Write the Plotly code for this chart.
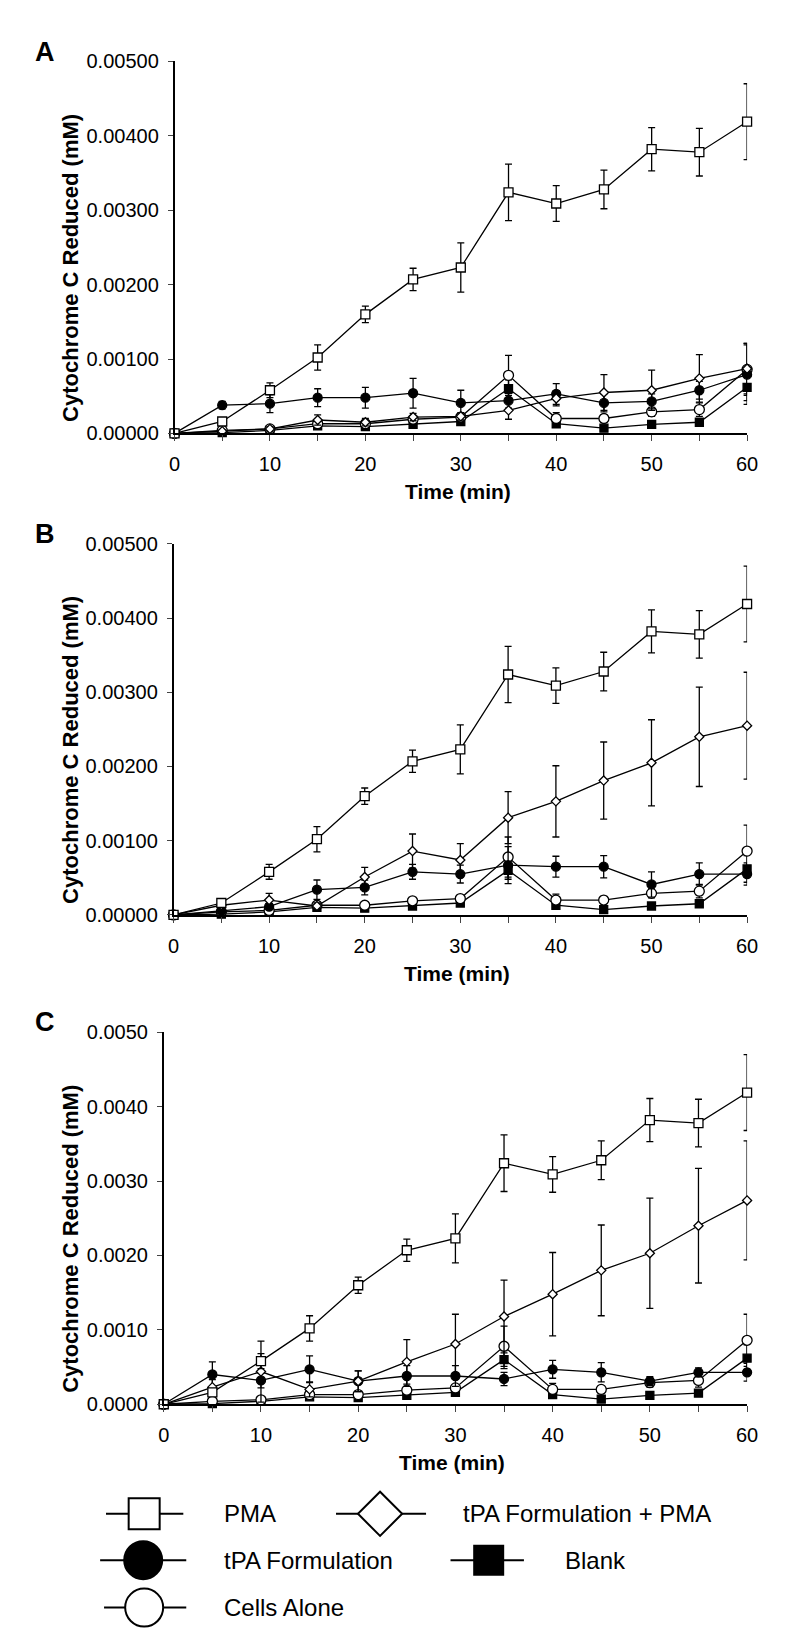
import plotly.graph_objects as go

W, H = 800, 1649

times = [0, 5, 10, 15, 20, 25, 30, 35, 40, 45, 50, 55, 60]

# values shared by all three panels
pma = [0, 0.00016, 0.00058, 0.00102, 0.00160, 0.00207, 0.00223, 0.00324, 0.00309, 0.00328, 0.00382, 0.00378, 0.00419]
pma_err = [0, 0.00003, 0.00010, 0.00017, 0.00011, 0.00015, 0.00033, 0.00038, 0.00024, 0.00026, 0.00029, 0.00032, 0.00051]
cells = [0, 0.00004, 0.00006, 0.00013, 0.00013, 0.00019, 0.00022, 0.00078, 0.00020, 0.00020, 0.00029, 0.00032, 0.00086]
cells_err = [0, 0.00002, 0.00003, 0.00003, 0.00003, 0.00004, 0.00004, 0.00027, 0.00008, 0.00005, 0.00006, 0.00009, 0.00035]
blank = [0, 0.00001, 0.00004, 0.00010, 0.00009, 0.00012, 0.00016, 0.00060, 0.00013, 0.00007, 0.00012, 0.00015, 0.00062]
blank_err = [0, 0.00002, 0.00002, 0.00002, 0.00002, 0.00002, 0.00002, 0.00012, 0.00005, 0.00002, 0.00002, 0.00002, 0.00018]

# panel A
tpa_a = [0, 0.00038, 0.00040, 0.00048, 0.00048, 0.00054, 0.00041, 0.00044, 0.00053, 0.00041, 0.00043, 0.00058, 0.00079]
tpa_a_err = [0, 0.00005, 0.00012, 0.00012, 0.00014, 0.00020, 0.00017, 0.00010, 0.00014, 0.00012, 0.00010, 0.00012, 0.00040]
combo_a = [0, 0.00003, 0.00006, 0.00018, 0.00015, 0.00022, 0.00023, 0.00031, 0.00047, 0.00055, 0.00058, 0.00074, 0.00087]
combo_a_err = [0, 0.00002, 0.00003, 0.00007, 0.00005, 0.00005, 0.00005, 0.00012, 0.00010, 0.00024, 0.00027, 0.00032, 0.00034]

# panel B
tpa_b = [0, 0.00005, 0.00011, 0.00034, 0.00037, 0.00058, 0.00055, 0.00067, 0.00065, 0.00065, 0.00041, 0.00055, 0.00055]
tpa_b_err = [0, 0.00003, 0.00004, 0.00013, 0.00010, 0.00010, 0.00012, 0.00025, 0.00014, 0.00015, 0.00017, 0.00015, 0.00015]
combo_b = [0, 0.00013, 0.00020, 0.00012, 0.00051, 0.00086, 0.00074, 0.00131, 0.00153, 0.00181, 0.00205, 0.00240, 0.00255]
combo_b_err = [0, 0.00005, 0.00009, 0.00004, 0.00013, 0.00023, 0.00022, 0.00035, 0.00048, 0.00052, 0.00058, 0.00067, 0.00072]

# panel C
tpa_c = [0, 0.00040, 0.00032, 0.00047, 0.00031, 0.00038, 0.00038, 0.00034, 0.00047, 0.00043, 0.00031, 0.00043, 0.00043]
tpa_c_err = [0, 0.00017, 0.00010, 0.00018, 0.00014, 0.00014, 0.00014, 0.00009, 0.00012, 0.00013, 0.00006, 0.00006, 0.00012]
combo_c = [0, 0.00023, 0.00044, 0.00020, 0.00031, 0.00057, 0.00081, 0.00118, 0.00148, 0.00180, 0.00203, 0.00240, 0.00274]
combo_c_err = [0, 0.00010, 0.00041, 0.00010, 0.00014, 0.00030, 0.00040, 0.00049, 0.00056, 0.00061, 0.00074, 0.00077, 0.00080]

y_ticks = [0, 0.001, 0.002, 0.003, 0.004, 0.005]
x_ticktext = ["0", "", "10", "", "20", "", "30", "", "40", "", "50", "", "60"]

legend_names = ["PMA", "tPA Formulation + PMA", "tPA Formulation", "Blank", "Cells Alone"]

FONT = "Arial, Liberation Sans, sans-serif"

# pixel boxes for each panel: left, right, top, bottom
panels = [
    ("A", 164, 749, 43, 420, ".5f", tpa_a, tpa_a_err, combo_a, combo_a_err),
    ("B", 163, 749, 532, 908, ".5f", tpa_b, tpa_b_err, combo_b, combo_b_err),
    ("C", 153, 749, 1027, 1404, ".4f", tpa_c, tpa_c_err, combo_c, combo_c_err),
]

styles = {
    "PMA": dict(symbol="square", color="white", size=9),
    "combo": dict(symbol="diamond", color="white", size=7),
    "tpa": dict(symbol="circle", color="black", size=9),
    "blank": dict(symbol="square", color="black", size=8),
    "cells": dict(symbol="circle", color="white", size=10),
}

fig = go.Figure()
layout = {}
annotations = []


def label(text, px, py, size, angle=0, anchor="center"):
    return dict(
        text=text, textangle=angle, x=px / W, y=1 - py / H,
        xref="paper", yref="paper", xanchor=anchor, yanchor="middle",
        showarrow=False, font=dict(family=FONT, size=size, color="black"),
    )


for i, (letter, l, r, t, b, fmt, tpa, tpa_err, combo, combo_err) in enumerate(panels):
    n = "" if i == 0 else str(i + 1)
    xa, ya = "x" + n, "y" + n
    series = [
        ("blank", blank, blank_err),
        ("cells", cells, cells_err),
        ("tpa", tpa, tpa_err),
        ("combo", combo, combo_err),
        ("PMA", pma, pma_err),
    ]
    for key, vals, errs in series:
        st = styles[key]
        fig.add_trace(go.Scatter(
            x=times, y=vals, xaxis=xa, yaxis=ya, mode="lines+markers",
            line=dict(color="black", width=1.3),
            marker=dict(symbol=st["symbol"], size=st["size"], color=st["color"],
                        line=dict(color="black", width=1.3)),
            error_y=dict(type="data", array=errs, visible=True, color="black",
                         thickness=1.3, width=3.5),
            cliponaxis=False, showlegend=False,
        ))
    layout["xaxis" + n] = dict(
        domain=[l / W, r / W], anchor=ya, range=[0, 60],
        tickvals=times, ticktext=x_ticktext, ticks="outside", ticklen=6,
        tickwidth=1.3, showline=True, linecolor="black", linewidth=1.5,
        showgrid=False, zeroline=False, ticklabelstandoff=6,
        tickfont=dict(family=FONT, size=20, color="black"),
    )
    layout["yaxis" + n] = dict(
        domain=[1 - b / H, 1 - t / H], anchor=xa, range=[0, 0.005],
        tickvals=y_ticks, tickformat=fmt, ticks="outside", ticklen=5,
        tickwidth=1.3, showline=True, linecolor="black", linewidth=1.5,
        showgrid=False, zeroline=False, ticklabelstandoff=5,
        tickfont=dict(family=FONT, size=20, color="black"),
    )
    annotations.append(label("<b>Cytochrome C Reduced (mM)</b>", 57, (t + b) / 2 + 21, 22, angle=-90))
    annotations.append(label("<b>Time (min)</b>", (l + r) / 2 - 3, b + 59, 21))
    annotations.append(label("<b>" + letter + "</b>", 32, t - 10, 27))

# legend drawn in its own pixel-scaled axis
leg_top = 1418
layout["xaxis4"] = dict(domain=[0, 1], range=[0, W], visible=False, anchor="y4")
layout["yaxis4"] = dict(domain=[0, 1 - leg_top / H], range=[H, leg_top], visible=False, anchor="x4")

leg_items = [
    # line x0, x1, marker x, row y, text x, symbol, fill, size
    (94, 173, 133, 1515, 213, "square", "white", 31),
    (329, 421, 374, 1515, 457, "diamond", "white", 34),
    (88, 176, 132, 1562, 213, "circle", "black", 38),
    (446, 521, 485, 1562, 561, "square", "black", 29),
    (92, 176, 133, 1610, 213, "circle", "white", 38),
]
for name, (x0, x1, cx, yy, tx, sym, fill, sz) in zip(legend_names, leg_items):
    fig.add_trace(go.Scatter(
        x=[x0, x1], y=[yy, yy], xaxis="x4", yaxis="y4", mode="lines",
        line=dict(color="black", width=2), showlegend=False, hoverinfo="skip",
    ))
    fig.add_trace(go.Scatter(
        x=[cx], y=[yy], xaxis="x4", yaxis="y4", mode="markers",
        marker=dict(symbol=sym, size=sz, color=fill, line=dict(color="black", width=2)),
        showlegend=False, name=name, cliponaxis=False,
    ))
    annotations.append(dict(
        text=name, x=tx, y=yy, xref="x4", yref="y4", xanchor="left", yanchor="middle",
        showarrow=False, font=dict(family=FONT, size=24, color="black"),
    ))

fig.update_layout(
    width=W, height=H, margin=dict(l=0, r=0, t=0, b=0),
    paper_bgcolor="white", plot_bgcolor="white",
    annotations=annotations, **layout,
)

fig.write_html("out.html")
